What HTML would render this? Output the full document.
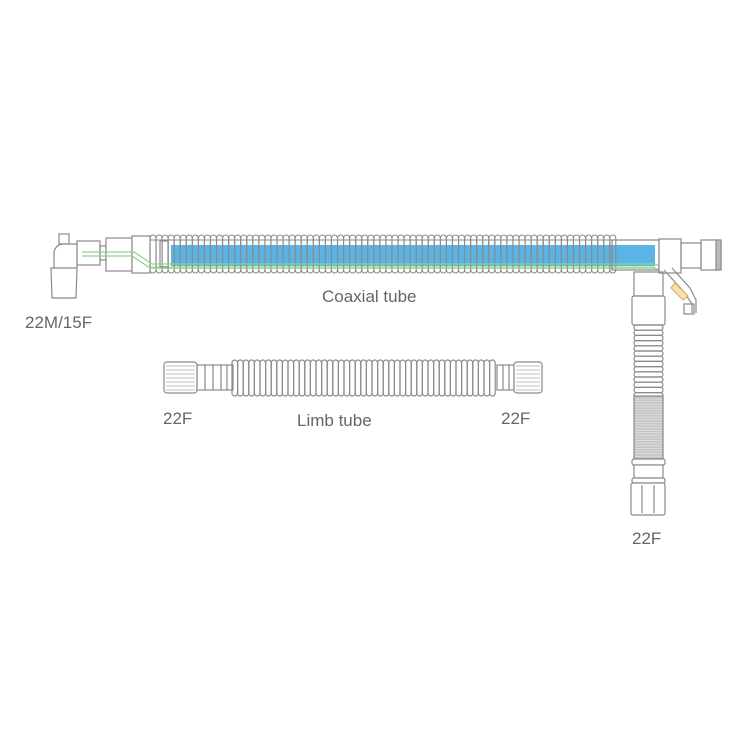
<!DOCTYPE html>
<html><head><meta charset="utf-8"><style>
html,body{margin:0;padding:0;background:#fff}
svg{display:block}
text{font-family:"Liberation Sans",sans-serif;fill:#666;font-size:17px}
</style></head><body>
<svg id="s" width="750" height="750" viewBox="0 0 750 750" xmlns="http://www.w3.org/2000/svg">
<g fill="none" stroke="#8a8a8a" stroke-width="1.2">
<rect x="171" y="245" width="484" height="22" fill="#5ab4e5" stroke="none"/>
<rect x="150" y="266" width="505" height="3" fill="#cfe8c8" stroke="none"/>
<rect x="59" y="234" width="10" height="10"/>
<path d="M54 268 V252 Q56 244 64 244 H77 V268"/>
<path d="M51 268 H77 L76 298 H52 Z" fill="#fff"/>
<rect x="77" y="241" width="23" height="24" fill="#fff"/>
<rect x="100" y="246" width="6" height="14"/>
<rect x="106" y="238" width="26" height="33" fill="#fff"/>
<rect x="132" y="236" width="18" height="37" fill="#fff"/>
<g id="cx" stroke-width="1.1"></g>
<rect x="160" y="241" width="8" height="26"/>
<path d="M82 252 H134 L152 264 H655 L668 270" stroke="#8fd58a" stroke-width="1.2"/>
<path d="M82 256 H132 L150 268 H655 L665 274" stroke="#8fd58a" stroke-width="1.2"/>
<rect x="612" y="240" width="47" height="30" fill="none"/>
<rect x="659" y="239" width="22" height="34" fill="#fff"/>
<rect x="681" y="243" width="20" height="25"/>
<rect x="701" y="240" width="20" height="30"/>
<rect x="716" y="240" width="5" height="30" fill="#bbb"/>
<path d="M664 270 L684 292 L692 304 V313 M672 268 L690 288 L696 300 V313"/>
<path d="M675 283 L688 296 L683 300 L671 288 Z" fill="#f6e3b0" stroke="#d9b060"/>
<rect x="684" y="304" width="10" height="10"/>
<rect x="634" y="272" width="29" height="24"/>
<rect x="632" y="296" width="33" height="29" rx="2"/>
<g id="vx"></g>
<rect x="634" y="396" width="29" height="63" fill="#c4c4c4" stroke="#888"/>
<g id="vd" stroke="#e4e4e4" stroke-width="0.8"></g>
<rect x="632" y="459" width="33" height="6" rx="2" fill="#fff"/>
<rect x="634" y="465" width="29" height="13" fill="#fff"/>
<rect x="632" y="478" width="33" height="5" rx="2" fill="#fff"/>
<rect x="631" y="483" width="34" height="32" rx="2" fill="#fff"/>
<path d="M642 485 V513 M654 485 V513"/>
<rect x="164" y="362" width="33" height="31" rx="3" fill="#fff"/>
<g id="lc1" stroke="#aaa" stroke-width="0.8"></g>
<rect x="197" y="365" width="36" height="25"/>
<path d="M205 365 V390 M213 365 V390 M221 365 V390 M227 365 V390"/>
<g id="lx"></g>
<rect x="497" y="365" width="17" height="25"/>
<path d="M503 365 V390 M509 365 V390"/>
<rect x="514" y="362" width="28" height="31" rx="3" fill="#fff"/>
<g id="lc2" stroke="#aaa" stroke-width="0.8"></g>
</g>
<text x="322" y="302">Coaxial tube</text>
<text x="25" y="328">22M/15F</text>
<text x="297" y="426">Limb tube</text>
<text x="163" y="424">22F</text>
<text x="501" y="424">22F</text>
<text x="632" y="544">22F</text>
</svg>
<script>
var NS="http://www.w3.org/2000/svg";
function add(g,tag,a){var e=document.createElementNS(NS,tag);for(var k in a)e.setAttribute(k,a[k]);document.getElementById(g).appendChild(e);}
for(var x=150;x<610;x+=6.05){add("cx","rect",{x:x,y:235,width:6,height:38,rx:3});}
add("cx","path",{d:"M150 240 H612 M150 268 H612"});
for(var x=232;x<495;x+=5.6){add("lx","rect",{x:x,y:360,width:5.6,height:36,rx:2.8});}
for(var y=325;y<396;y+=5.2){add("vx","rect",{x:634,y:y,width:29,height:5.2,rx:2.6});}
for(var y=399;y<458;y+=2.6){add("vd","line",{x1:635,y1:y,x2:662,y2:y});}
for(var y=366;y<392;y+=4){add("lc1","line",{x1:166,y1:y,x2:195,y2:y});add("lc2","line",{x1:516,y1:y,x2:540,y2:y});}
</script>
</body></html>
